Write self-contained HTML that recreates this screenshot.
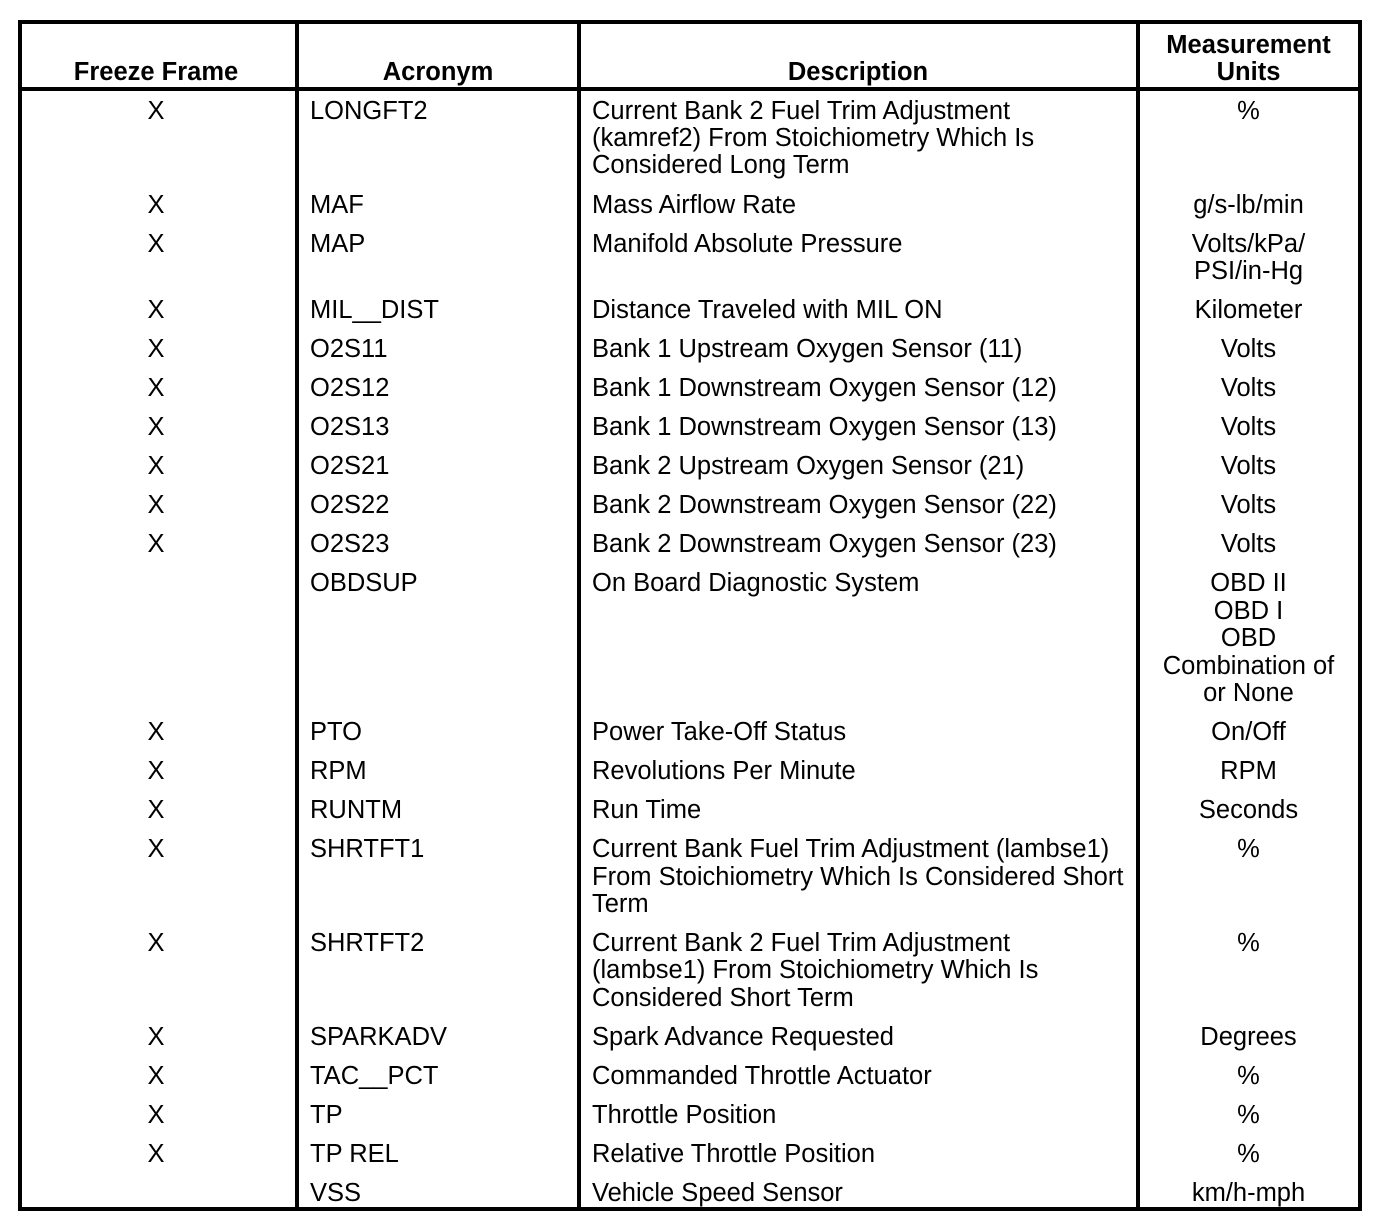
<!DOCTYPE html>
<html>
<head>
<meta charset="utf-8">
<style>
html,body{margin:0;padding:0;background:#fff;}
body{width:1392px;height:1230px;position:relative;overflow:hidden;font-family:"Liberation Sans",Arial,sans-serif;color:#000;}
.ln{position:absolute;background:#000;}
.t{position:absolute;font-size:25.5px;line-height:27.4px;white-space:nowrap;margin-top:1.5px;}
.c1{left:56px;width:200px;text-align:center;}
.c2{left:310px;}
.c3{left:592px;}
.c4{left:1148px;width:201px;text-align:center;}
.h{font-weight:bold;margin-top:0.5px;}
</style>
</head>
<body>
<!-- borders -->
<div class="ln" style="left:18px;top:20px;width:1344px;height:4px;"></div>
<div class="ln" style="left:18px;top:1207px;width:1344px;height:4px;"></div>
<div class="ln" style="left:18px;top:20px;width:4px;height:1191px;"></div>
<div class="ln" style="left:1358px;top:20px;width:4px;height:1191px;"></div>
<div class="ln" style="left:295px;top:20px;width:4px;height:1191px;"></div>
<div class="ln" style="left:577px;top:20px;width:4px;height:1191px;"></div>
<div class="ln" style="left:1136px;top:20px;width:4px;height:1191px;"></div>
<div class="ln" style="left:18px;top:87px;width:1344px;height:4px;"></div>

<!-- header -->
<div class="t h c1" style="top:58px;">Freeze Frame</div>
<div class="t h" style="left:300px;width:276px;text-align:center;top:58px;">Acronym</div>
<div class="t h" style="left:581px;width:554px;text-align:center;top:58px;">Description</div>
<div class="t h c4" style="top:31px;line-height:27px;">Measurement<br>Units</div>

<!-- rows -->
<div class="t c1" style="top:96.1px;">X</div>
<div class="t c2" style="top:96.1px;">LONGFT2</div>
<div class="t c3" style="top:96.1px;">Current Bank 2 Fuel Trim Adjustment<br>(kamref2) From Stoichiometry Which Is<br>Considered Long Term</div>
<div class="t c4" style="top:96.1px;">%</div>

<div class="t c1" style="top:190px;">X</div>
<div class="t c2" style="top:190px;">MAF</div>
<div class="t c3" style="top:190px;">Mass Airflow Rate</div>
<div class="t c4" style="top:190px;">g/s-lb/min</div>

<div class="t c1" style="top:229px;">X</div>
<div class="t c2" style="top:229px;">MAP</div>
<div class="t c3" style="top:229px;">Manifold Absolute Pressure</div>
<div class="t c4" style="top:229px;">Volts/kPa/<br>PSI/in-Hg</div>

<div class="t c1" style="top:295.5px;">X</div>
<div class="t c2" style="top:295.5px;">MIL__DIST</div>
<div class="t c3" style="top:295.5px;">Distance Traveled with MIL ON</div>
<div class="t c4" style="top:295.5px;">Kilometer</div>

<div class="t c1" style="top:334.5px;">X</div>
<div class="t c2" style="top:334.5px;">O2S11</div>
<div class="t c3" style="top:334.5px;">Bank 1 Upstream Oxygen Sensor (11)</div>
<div class="t c4" style="top:334.5px;">Volts</div>

<div class="t c1" style="top:373.5px;">X</div>
<div class="t c2" style="top:373.5px;">O2S12</div>
<div class="t c3" style="top:373.5px;">Bank 1 Downstream Oxygen Sensor (12)</div>
<div class="t c4" style="top:373.5px;">Volts</div>

<div class="t c1" style="top:412.6px;">X</div>
<div class="t c2" style="top:412.6px;">O2S13</div>
<div class="t c3" style="top:412.6px;">Bank 1 Downstream Oxygen Sensor (13)</div>
<div class="t c4" style="top:412.6px;">Volts</div>

<div class="t c1" style="top:451.6px;">X</div>
<div class="t c2" style="top:451.6px;">O2S21</div>
<div class="t c3" style="top:451.6px;">Bank 2 Upstream Oxygen Sensor (21)</div>
<div class="t c4" style="top:451.6px;">Volts</div>

<div class="t c1" style="top:490.7px;">X</div>
<div class="t c2" style="top:490.7px;">O2S22</div>
<div class="t c3" style="top:490.7px;">Bank 2 Downstream Oxygen Sensor (22)</div>
<div class="t c4" style="top:490.7px;">Volts</div>

<div class="t c1" style="top:529.7px;">X</div>
<div class="t c2" style="top:529.7px;">O2S23</div>
<div class="t c3" style="top:529.7px;">Bank 2 Downstream Oxygen Sensor (23)</div>
<div class="t c4" style="top:529.7px;">Volts</div>

<div class="t c2" style="top:568.8px;">OBDSUP</div>
<div class="t c3" style="top:568.8px;">On Board Diagnostic System</div>
<div class="t c4" style="top:568.8px;">OBD II<br>OBD I<br>OBD<br>Combination of<br>or None</div>

<div class="t c1" style="top:717.4px;">X</div>
<div class="t c2" style="top:717.4px;">PTO</div>
<div class="t c3" style="top:717.4px;">Power Take-Off Status</div>
<div class="t c4" style="top:717.4px;">On/Off</div>

<div class="t c1" style="top:756.5px;">X</div>
<div class="t c2" style="top:756.5px;">RPM</div>
<div class="t c3" style="top:756.5px;">Revolutions Per Minute</div>
<div class="t c4" style="top:756.5px;">RPM</div>

<div class="t c1" style="top:795.5px;">X</div>
<div class="t c2" style="top:795.5px;">RUNTM</div>
<div class="t c3" style="top:795.5px;">Run Time</div>
<div class="t c4" style="top:795.5px;">Seconds</div>

<div class="t c1" style="top:834.6px;">X</div>
<div class="t c2" style="top:834.6px;">SHRTFT1</div>
<div class="t c3" style="top:834.6px;">Current Bank Fuel Trim Adjustment (lambse1)<br>From Stoichiometry Which Is Considered Short<br>Term</div>
<div class="t c4" style="top:834.6px;">%</div>

<div class="t c1" style="top:928.4px;">X</div>
<div class="t c2" style="top:928.4px;">SHRTFT2</div>
<div class="t c3" style="top:928.4px;">Current Bank 2 Fuel Trim Adjustment<br>(lambse1) From Stoichiometry Which Is<br>Considered Short Term</div>
<div class="t c4" style="top:928.4px;">%</div>

<div class="t c1" style="top:1022.3px;">X</div>
<div class="t c2" style="top:1022.3px;">SPARKADV</div>
<div class="t c3" style="top:1022.3px;">Spark Advance Requested</div>
<div class="t c4" style="top:1022.3px;">Degrees</div>

<div class="t c1" style="top:1061.3px;">X</div>
<div class="t c2" style="top:1061.3px;">TAC__PCT</div>
<div class="t c3" style="top:1061.3px;">Commanded Throttle Actuator</div>
<div class="t c4" style="top:1061.3px;">%</div>

<div class="t c1" style="top:1100.4px;">X</div>
<div class="t c2" style="top:1100.4px;">TP</div>
<div class="t c3" style="top:1100.4px;">Throttle Position</div>
<div class="t c4" style="top:1100.4px;">%</div>

<div class="t c1" style="top:1139.4px;">X</div>
<div class="t c2" style="top:1139.4px;">TP REL</div>
<div class="t c3" style="top:1139.4px;">Relative Throttle Position</div>
<div class="t c4" style="top:1139.4px;">%</div>

<div class="t c2" style="top:1178.5px;">VSS</div>
<div class="t c3" style="top:1178.5px;">Vehicle Speed Sensor</div>
<div class="t c4" style="top:1178.5px;">km/h-mph</div>
</body>
</html>
